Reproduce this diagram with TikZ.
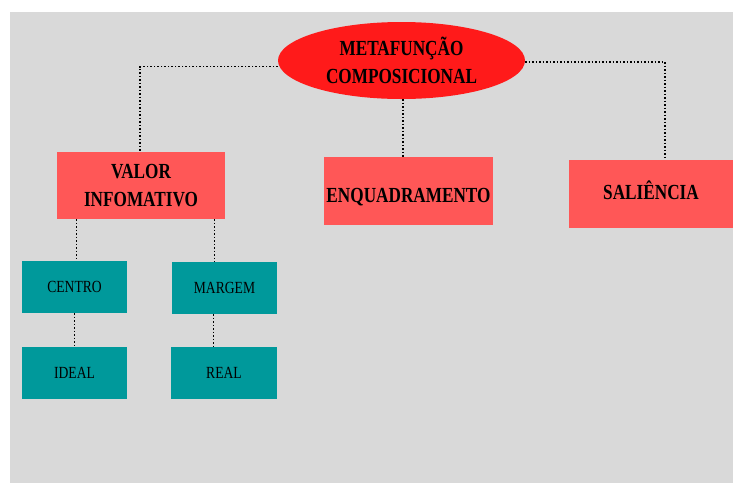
\documentclass[tikz,border=0pt]{standalone}
\usepackage{fontspec}
\usetikzlibrary{shapes.geometric}
\setmainfont{Liberation Serif}
\newfontfamily\narrowfont[FakeStretch=0.8]{Liberation Serif}
\definecolor{bggray}{RGB}{217,217,217}
\definecolor{metared}{RGB}{255,26,26}
\definecolor{salmon}{RGB}{255,87,87}
\definecolor{tealbox}{RGB}{0,153,155}

\begin{document}
\begin{tikzpicture}[x=1pt,y=1pt,
    topic/.style ={rectangle, fill=salmon, inner sep=0pt, align=center,
      font=\narrowfont\fontsize{21.5}{28}\selectfont\bfseries},
    leaf/.style ={rectangle, fill=tealbox, inner sep=0pt,
      minimum width=105pt, minimum height=52pt,
      font=\narrowfont\fontsize{17}{20}\selectfont},
    link/.style ={dotted, line width=1.5pt, black}]
   \useasboundingbox (0,0) rectangle (733,-483);
   \fill[bggray] (10,-12) rectangle (733,-483);
   \node[ellipse, fill=metared, minimum width=247pt, minimum height=77pt,
     inner sep=0pt, align=center,
     font=\narrowfont\fontsize{21.5}{28}\selectfont\bfseries]
     (meta) at (401.5,-60.5) {METAFUNÇÃO\\COMPOSICIONAL};
   \node[topic, minimum width=168pt, minimum height=67pt] (valor) at (141,-185.5) {VALOR\\INFOMATIVO};
   \node[topic, minimum width=169pt, minimum height=68pt, text height=22pt, text depth=0pt] (enq) at (408.5,-191) {ENQUADRAMENTO};
   \node[topic, minimum width=164pt, minimum height=68pt, text height=10pt, text depth=0pt] (sal) at (651,-194) {SALIÊNCIA};
   \node[leaf] (centro) at (74.5,-287) {CENTRO};
   \node[leaf] (margem) at (224.5,-288) {MARGEM};
   \node[leaf] (ideal) at (74.5,-373) {IDEAL};
   \node[leaf, minimum width=106pt] (real) at (224,-373) {REAL};
   \draw[link] ([yshift=-6pt]meta.west) -| ([xshift=-1pt]valor.north);
   \draw[link] ([yshift=-1.5pt]meta.east) -| ([xshift=14pt,yshift=2pt]sal.north);
   \draw[link] ([xshift=1.5pt]meta.south) -- ([xshift=1.5pt]meta.south |- enq.north);
   \draw[link] ([xshift=2pt]centro.north |- valor.south) -- ([xshift=2pt]centro.north);
   \draw[link] ([xshift=-10pt]margem.north |- valor.south) -- ([xshift=-10pt]margem.north);
   \draw[link] (centro) -- (ideal);
   \draw[link] ([xshift=-11pt]margem.south) -- ([xshift=-11pt]margem.south |- real.north);
 \end{tikzpicture}
\end{document}
